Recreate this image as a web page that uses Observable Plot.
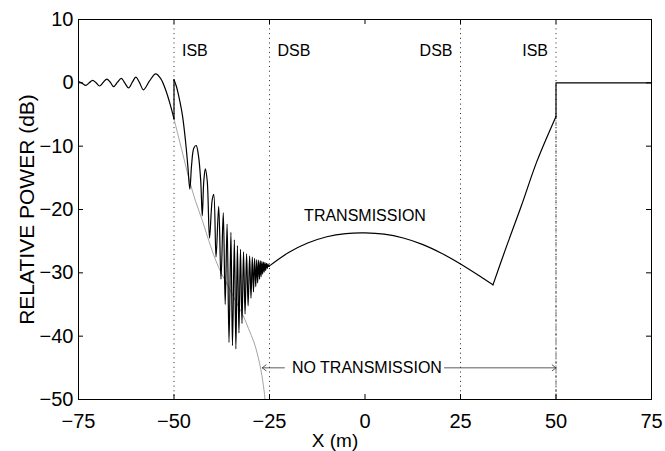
<!DOCTYPE html>
<html><head><meta charset="utf-8">
<script src="https://cdn.jsdelivr.net/npm/d3@7"></script>
<script src="https://cdn.jsdelivr.net/npm/@observablehq/plot@0.6"></script>
<style>body{margin:0;background:#fff} #chart svg{display:block}</style>
</head><body><div id="chart"></div>
<script>
// incident-side standing-wave ripple (x in m, relative power in dB)
const waveX = [-75, -74, -73.1, -72.2, -71.3, -70.4, -69.5, -68.5, -67.6, -66.7, -65.8, -64.8, -63.8, -62.9, -61.9, -60.9, -60.0, -59.0, -58.0, -56.4, -54.8, -53.4, -52.2, -51.0, -50.0];
const waveY = [0.2, -0.1, -0.4, 0.0, 0.4, 0.0, -0.5, 0.1, 0.6, 0.1, -0.6, 0.1, 0.7, 0.0, -0.8, 0.1, 0.9, 0.0, -1.1, 0.3, 1.4, 0.6, -1.1, -3.4, -5.7];
// diffraction fringes between ISB and DSB
const fringeX = [-50.0, -49.4, -48.9, -47.85, -47.0, -46.4, -45.85, -45.4, -44.8, -44.2, -43.6, -43.0, -42.6, -42.2, -41.8, -41.3, -40.7, -40.0, -39.6, -39.0, -38.3, -37.7, -37.1, -36.6, -36.1, -35.6, -35.1, -34.7, -34.2, -33.8, -33.4, -33.0, -32.6, -32.2, -31.8, -31.4, -31.0, -30.6, -30.2, -29.85, -29.5, -29.2, -28.9, -28.6, -28.35, -28.1, -27.85, -27.6, -27.4, -27.2, -27.0, -26.8, -26.6, -26.4, -26.2, -26.0, -25.8, -25.6, -25.4, -25.2, -25.0];
const fringeY = [0.5, -0.5, -1.7, -4.9, -9.1, -13.0, -16.8, -13.0, -10.3, -9.9, -11.5, -15.5, -21.0, -15.5, -13.6, -15.5, -24.5, -18.5, -17.6, -27.5, -19.5, -31.0, -20.5, -35.0, -22.3, -41.0, -23.6, -41.5, -24.8, -42.0, -25.7, -39.5, -26.3, -38.0, -26.7, -36.5, -27.0, -35.2, -27.3, -34.0, -27.5, -33.0, -27.7, -32.2, -27.9, -31.6, -28.0, -31.0, -28.1, -30.6, -28.2, -30.2, -28.3, -29.9, -28.4, -29.6, -28.5, -29.3, -28.6, -29.0, -28.9];
// transmission between the DSBs
const transX = [-25, -20, -15, -10, -5, 0, 5, 10, 15, 20, 25, 30, 33.5];
const transY = [-28.9, -26.8, -25.3, -24.3, -23.8, -23.7, -23.9, -24.5, -25.5, -26.9, -28.6, -30.5, -31.9];
const riseX = [33.5, 37, 41, 45, 50];
const riseY = [-31.9, -25.9, -19.3, -12.4, -5.3];
const stepX = [50, 75];
const stepY = [0, 0];
// geometric (no transmission) decay
const greyX = [-50, -48, -46, -44.4, -42.6, -40.9, -39.1, -37.5, -36, -34, -32, -30.5, -29.1, -28.3, -27.6, -27.0, -26.6, -26.3, -26.1];
const greyY = [-5.7, -10.5, -15.3, -18.6, -21.7, -24.9, -28.0, -30.2, -31.9, -34.3, -36.6, -38.8, -40.9, -42.5, -44.3, -46.2, -47.8, -49.2, -51];

const xTicks = [-75, -50, -25, 0, 25, 50, 75];
const yTicks = [-50, -40, -30, -20, -10, 0, 10];
const boundaryX = [-50, -25, 25, 50];
const boundaryLabels = ["ISB", "DSB", "DSB", "ISB"];
const boundaryLabelY = 5;
const transLabel = {x: 0, y: -21, text: "TRANSMISSION"};
const noTransLabel = {x: 0.5, y: -45, text: "NO TRANSMISSION"};
const arrowX1 = [-21.1, 20.8];
const arrowX2 = [-26.9, 50];
const xLabel = "X (m)";
const yLabel = "RELATIVE POWER (dB)";

const W = 665, H = 451, mL = 78, mR = 14, mT = 19, mB = 52;
const innerW = W - mL - mR, innerH = H - mT - mB;
const tickLen = 5;
const font = "'Liberation Sans', Arial, Helvetica, sans-serif";

const pts = (xs, ys, seg) => xs.map((x, i) => ({x, y: ys[i], seg}));
const smooth = [...pts(waveX, waveY, "wave"), ...pts(fringeX, fringeY, "fringe"), ...pts(transX, transY, "trans"), ...pts(riseX, riseY, "rise")];
const linear = [
  {x: waveX.at(-1), y: waveY.at(-1), seg: "jump"}, {x: fringeX[0], y: fringeY[0], seg: "jump"},
  {x: riseX.at(-1), y: riseY.at(-1), seg: "step"}, ...pts(stepX, stepY, "step")
];
const grey = pts(greyX, greyY, "grey");
const arrows = arrowX1.map((x1, i) => ({x1, x2: arrowX2[i], y: noTransLabel.y}));

const chart = Plot.plot({
  width: W, height: H,
  marginLeft: mL, marginRight: mR, marginTop: mT, marginBottom: mB,
  x: {domain: [-75, 75]},
  y: {domain: [-50, 10]},
  style: {fontFamily: font, background: "white", color: "black"},
  marks: [
    Plot.ruleX(boundaryX, {stroke: "#222", strokeWidth: 1, strokeDasharray: "1,3.7"}),
    Plot.ruleX([riseX.at(-1)], {y1: riseY.at(-1), y2: -50, stroke: "#555", strokeWidth: 0.9, strokeDasharray: "3,1.5,1,1.5"}),
    Plot.line(grey, {x: "x", y: "y", stroke: "#8c8c8c", strokeWidth: 0.8, curve: "catmull-rom", clip: true}),
    Plot.line(smooth, {x: "x", y: "y", z: "seg", stroke: "black", strokeWidth: 1.2, curve: "catmull-rom"}),
    Plot.line(linear, {x: "x", y: "y", z: "seg", stroke: "black", strokeWidth: 1.2}),
    Plot.text(boundaryX.slice(0, 2), {x: d => d, y: boundaryLabelY, text: (d, i) => boundaryLabels[i], textAnchor: "start", dx: 8, fontSize: 16}),
    Plot.text(boundaryX.slice(2), {x: d => d, y: boundaryLabelY, text: (d, i) => boundaryLabels[i + 2], textAnchor: "end", dx: -8, fontSize: 16}),
    Plot.text([transLabel], {x: "x", y: "y", text: "text", fontSize: 16}),
    Plot.text([noTransLabel], {x: "x", y: "y", text: "text", fontSize: 16}),
    Plot.arrow(arrows, {x1: "x1", x2: "x2", y1: "y", y2: "y", stroke: "#333", strokeWidth: 0.8, headLength: 9, headAngle: 75}),
    Plot.ruleX(xTicks, {insetTop: innerH - tickLen, stroke: "black"}),
    Plot.ruleX(xTicks, {insetBottom: innerH - tickLen, stroke: "black"}),
    Plot.ruleY(yTicks, {insetRight: innerW - tickLen, stroke: "black"}),
    Plot.ruleY(yTicks, {insetLeft: innerW - tickLen, stroke: "black"}),
    Plot.frame({stroke: "black", strokeWidth: 1}),
    Plot.axisX({ticks: xTicks, tickSize: 0, tickPadding: 14, fontSize: 20, label: null}),
    Plot.axisY({ticks: yTicks, tickSize: 0, tickPadding: 5, fontSize: 20, label: null}),
    Plot.text([xLabel], {frameAnchor: "bottom", text: d => d, dy: 47, dx: -30, fontSize: 19}),
    Plot.text([yLabel], {frameAnchor: "left", text: d => d, dx: -51, rotate: -90, textAnchor: "middle", fontSize: 21})
  ]
});
document.getElementById("chart").append(chart);
</script>
</body></html>
